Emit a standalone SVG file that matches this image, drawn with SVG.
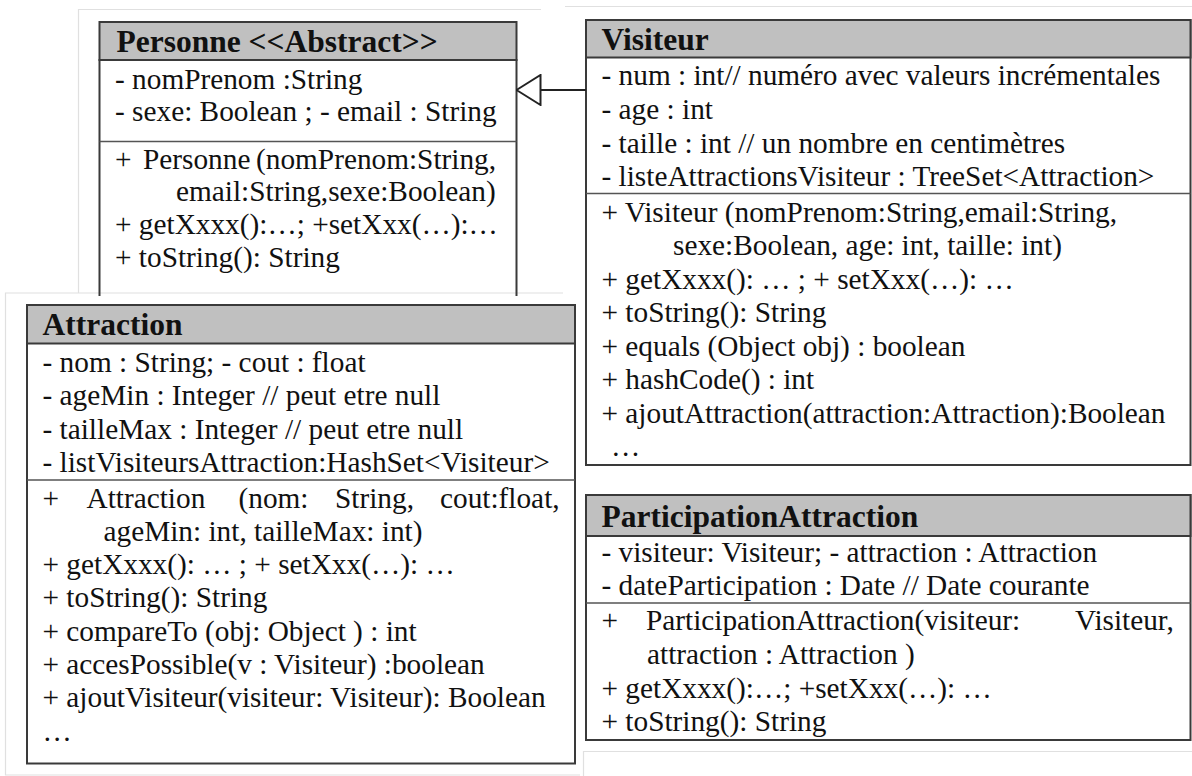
<svg xmlns="http://www.w3.org/2000/svg" width="1192" height="776" viewBox="0 0 1192 776" xml:space="preserve" font-family="Liberation Serif, Times New Roman, serif">
  <style>
    .frame { fill: none; stroke: #e0e0e0; stroke-width: 1.2; }
    .box { fill: #ffffff; stroke: #3a3a3a; stroke-width: 2; }
    .head { fill: #c0c0c0; stroke: #3a3a3a; stroke-width: 2; }
    .sep { stroke: #555555; stroke-width: 1.6; }
    .edge { fill: none; stroke: #222222; stroke-width: 2; }
    .title { font-family: 'Liberation Serif', 'Times New Roman', serif; font-size: 31.5px; font-weight: bold; fill: #111111; }
    .row { font-family: 'Liberation Serif', 'Times New Roman', serif; font-size: 29.3px; fill: #111111; }
  </style>
  <defs>
    <!-- hollow triangle for generalisation -->
    <marker id="inherit" viewBox="0 0 26 32" refX="25" refY="16" markerWidth="26" markerHeight="32" markerUnits="userSpaceOnUse" orient="auto">
      <path d="M1,1 L25,16 L1,31 Z" fill="#ffffff" stroke="#222222" stroke-width="2"/>
    </marker>
  </defs>

  <rect width="1192" height="776" fill="#ffffff"/>

  <!-- light borders of the pasted panels -->
  <g id="panel-frames">
    <path class="frame" d="M78.5,293 V9.5 H541"/>
    <path class="frame" d="M565,6.5 H1192"/>
    <path class="frame" d="M563,293 H5.5 V775 H580"/>
    <path class="frame" d="M583.5,776 V751.5 H1192"/>
  </g>

  <!-- Personne (abstract) -->
  <g id="personne">
    <rect class="head" x="99.5" y="22" width="417" height="38"/>
    <path class="box" d="M99.5,296 V60 H516.5 V296" style="fill:none"/>
    <line class="sep" x1="99.5" y1="141.5" x2="516.5" y2="141.5"/>
    <text class="title" x="116.5" y="51.5">Personne &lt;&lt;Abstract&gt;&gt;</text>
    <text class="row" x="115" y="88.5">- nomPrenom :String</text>
    <text class="row" x="115" y="121">- sexe: Boolean ; - email : String</text>
    <text class="row" y="168.5"><tspan x="115">+</tspan><tspan x="143">Personne</tspan><tspan x="256">(nomPrenom:String,</tspan></text>
    <text class="row" x="176" y="201">email:String,sexe:Boolean)</text>
    <text class="row" x="115" y="234">+ getXxxx():…; +setXxx(…):…</text>
    <text class="row" x="115" y="267">+ toString(): String</text>
  </g>

  <!-- Visiteur -->
  <g id="visiteur">
    <rect class="box" x="586" y="20" width="604.5" height="445"/>
    <rect class="head" x="586" y="20" width="604.5" height="37.5"/>
    <line class="sep" x1="586" y1="193.5" x2="1190.5" y2="193.5"/>
    <text class="title" x="601.5" y="50">Visiteur</text>
    <text class="row" x="601.5" y="85">- num : int// numéro avec valeurs incrémentales</text>
    <text class="row" x="601.5" y="118.5">- age : int</text>
    <text class="row" x="601.5" y="152.5">- taille : int // un nombre en centimètres</text>
    <text class="row" x="601.5" y="186">- listeAttractionsVisiteur : TreeSet&lt;Attraction&gt;</text>
    <text class="row" x="601.5" y="221.5">+ Visiteur  (nomPrenom:String,email:String,</text>
    <text class="row" x="673" y="255">sexe:Boolean, age: int, taille: int)</text>
    <text class="row" x="601.5" y="289">+ getXxxx(): … ; + setXxx(…): …</text>
    <text class="row" x="601.5" y="322">+ toString(): String</text>
    <text class="row" x="601.5" y="355.5">+ equals (Object obj) : boolean</text>
    <text class="row" x="601.5" y="389">+ hashCode() : int</text>
    <text class="row" x="601.5" y="422.5">+ ajoutAttraction(attraction:Attraction):Boolean</text>
    <text class="row" x="611" y="456">…</text>
  </g>

  <!-- Attraction -->
  <g id="attraction">
    <rect class="box" x="27" y="305" width="548" height="458.5"/>
    <rect class="head" x="27" y="305" width="548" height="38.5"/>
    <line class="sep" x1="27" y1="480" x2="575" y2="480"/>
    <text class="title" x="42.5" y="335">Attraction</text>
    <text class="row" x="42.5" y="371.5">- nom : String; - cout : float</text>
    <text class="row" x="42.5" y="405">- ageMin : Integer // peut etre null</text>
    <text class="row" x="42.5" y="438.5">- tailleMax : Integer // peut etre null</text>
    <text class="row" x="42.5" y="471.5">- listVisiteursAttraction:HashSet&lt;Visiteur&gt;</text>
    <text class="row" y="507.5"><tspan x="42.5">+</tspan><tspan x="86.5">Attraction</tspan><tspan x="238.5">(nom:</tspan><tspan x="335">String,</tspan><tspan x="440">cout:float,</tspan></text>
    <text class="row" x="103.5" y="540.5">ageMin: int, tailleMax: int)</text>
    <text class="row" x="42.5" y="573.5">+ getXxxx(): … ; + setXxx(…): …</text>
    <text class="row" x="42.5" y="607">+ toString(): String</text>
    <text class="row" x="42.5" y="640.5">+ compareTo (obj: Object ) : int</text>
    <text class="row" x="42.5" y="674">+ accesPossible(v : Visiteur) :boolean</text>
    <text class="row" x="42.5" y="707">+ ajoutVisiteur(visiteur: Visiteur): Boolean</text>
    <text class="row" x="42.5" y="741">…</text>
  </g>

  <!-- ParticipationAttraction -->
  <g id="participation-attraction">
    <rect class="box" x="586" y="495" width="604.5" height="245"/>
    <rect class="head" x="586" y="495" width="604.5" height="41"/>
    <line class="sep" x1="586" y1="603" x2="1190.5" y2="603"/>
    <text class="title" x="601.5" y="526.5">ParticipationAttraction</text>
    <text class="row" x="601.5" y="562">- visiteur: Visiteur; - attraction  : Attraction</text>
    <text class="row" x="601.5" y="595">- dateParticipation : Date // Date courante</text>
    <text class="row" y="630"><tspan x="601.5">+</tspan><tspan x="646">ParticipationAttraction(visiteur:</tspan><tspan x="1075">Visiteur,</tspan></text>
    <text class="row" x="647" y="663.5">attraction  : Attraction )</text>
    <text class="row" x="601.5" y="697.5">+ getXxxx():…; +setXxx(…): …</text>
    <text class="row" x="601.5" y="730.5">+ toString(): String</text>
  </g>

  <!-- connectors -->
  <g id="connectors">
    <path class="edge" d="M586,90 H516.5" marker-end="url(#inherit)"/>
  </g>
</svg>
